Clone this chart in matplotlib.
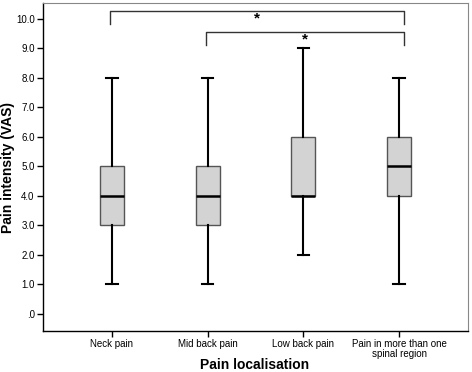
import matplotlib
matplotlib.use("Agg")
import matplotlib.pyplot as plt

categories = ["Neck pain", "Mid back pain", "Low back pain", "Pain in more than one\nspinal region"]
whislo = [1.0, 1.0, 2.0, 1.0]
q1 = [3.0, 3.0, 4.0, 4.0]
med = [4.0, 4.0, 4.0, 5.0]
q3 = [5.0, 5.0, 6.0, 6.0]
whishi = [8.0, 8.0, 9.0, 8.0]
yticks = [0, 1, 2, 3, 4, 5, 6, 7, 8, 9, 10]
ytick_labels = [".0", "1.0", "2.0", "3.0", "4.0", "5.0", "6.0", "7.0", "8.0", "9.0", "10.0"]
# significance brackets: (from group index, to group index)
sig_pairs = [(0, 3), (1, 3)]

plt.rcParams['font.family'] = ['Liberation Sans', 'DejaVu Sans']

fig = plt.figure(figsize=(4.72, 3.72), dpi=100)
ax = fig.add_axes([43/472, 1 - 331/372, (468 - 43)/472, (331 - 3)/372])

stats = []
for i, c in enumerate(categories):
    stats.append(dict(label=c, whislo=whislo[i], q1=q1[i], med=med[i], q3=q3[i], whishi=whishi[i], fliers=[]))

positions = [1, 2, 3, 4]
ax.bxp(stats, positions=positions, widths=0.25, patch_artist=True, showfliers=False,
       boxprops=dict(facecolor="#d3d3d3", edgecolor="#555555", linewidth=1.0),
       medianprops=dict(color="black", linewidth=1.8),
       whiskerprops=dict(color="black", linewidth=1.5),
       capprops=dict(color="black", linewidth=1.5),
       capwidths=0.12)

ax.set_xlim(0.28, 4.72)
ax.set_ylim(-0.58, 10.54)
ax.set_yticks(yticks)
ax.set_yticklabels(ytick_labels, fontsize=7)
ax.set_xticks(positions)
ax.set_xticklabels(categories, fontsize=7, linespacing=0.9)
ax.tick_params(axis='both', length=4, width=1, color='black', pad=2)

for s in ['top', 'right']:
    ax.spines[s].set_color('#888888')
    ax.spines[s].set_linewidth(0.8)
for s in ['left', 'bottom']:
    ax.spines[s].set_color('black')
    ax.spines[s].set_linewidth(1.0)

fig.text(8/472, 1 - 167/372, "Pain intensity (VAS)", rotation=90, ha='center', va='center',
         fontsize=10, fontweight='bold')
fig.text(255/472, 1 - 365/372, "Pain localisation", ha='center', va='center',
         fontsize=10, fontweight='bold')

# brackets
bracket_levels = [(10.27, 9.83), (9.56, 9.12)]
star_y = [10.0, 9.3]
for (a, b), (top, bot), sy in zip(sig_pairs, bracket_levels, star_y):
    xa, xb = positions[a] - 0.02, positions[b] + 0.05
    ax.plot([xa, xa, xb, xb], [bot, top, top, bot], color='#333333', linewidth=1.0)
    ax.text((xa + xb) / 2, sy, "*", ha='center', va='center', fontsize=11, fontweight='bold')

fig.savefig("out.png", dpi=100)
